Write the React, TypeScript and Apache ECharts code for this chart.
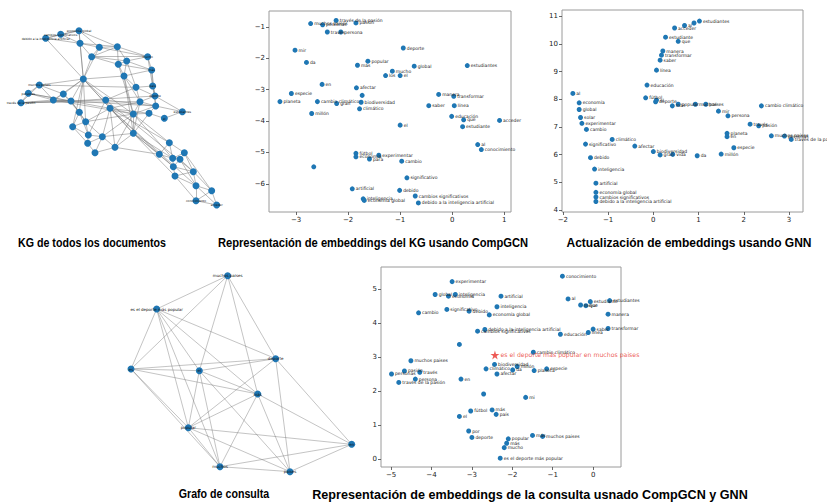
import React, { useEffect, useRef } from "react";
import * as echarts from "echarts";

// ---------- Panel 1: KG de todos los documentos (node layout units) ----------
const kgNodeX = [137,182,237,240,298,352,275,355,380,443,455,372,250,118,85,63,160,190,213,238,317,330,408,458,465,420,467,400,447,493,547,257,218,265,307,263,285,345,400,508,478,518,553,540,520,580,525,588,635,588,650];
const kgNodeY = [115,103,92,130,142,140,170,193,183,170,210,228,237,255,280,308,300,282,303,337,300,325,262,258,288,305,318,342,340,355,335,365,380,405,410,430,458,442,400,428,463,475,458,478,500,515,528,557,572,602,615];
const kgNodeLabels = [
  "debido a la inteligencia artificial","cambios significativos","economía global","","","","","","","mucho",
  "más","","","muchos países","personas","través de la pasión","","","","",
  "","","","país","deporte","","","","","el",
  "estudiantes","","","","","","","","","",
  "","","","","","","","","","conocimiento","acceder"
];
const kgEdges: [number, number][] = [
  [0,1],[0,2],[1,2],[0,3],[1,3],[2,3],[2,4],[3,4],[2,5],[3,5],[4,5],[3,6],[4,6],[5,6],[5,7],[5,8],[6,7],[7,8],[8,9],[5,9],
  [9,10],[8,10],[7,11],[8,11],[10,11],[6,8],[4,9],[6,9],[7,10],
  [12,0],[12,2],[12,3],[12,4],[12,6],[12,13],[12,16],[12,17],[12,18],[12,19],[12,20],[12,21],[12,11],[12,27],[12,31],[12,32],[12,38],
  [13,14],[14,15],[13,15],[13,16],[14,16],[15,16],[16,17],[17,18],[16,18],[13,17],[15,18],[14,18],[18,19],[17,19],
  [15,20],[15,25],[14,21],[13,22],[16,27],[18,24],[16,26],
  [20,21],[20,22],[21,27],[22,23],[22,24],[23,24],[22,25],[24,25],[24,26],[25,26],[25,27],[26,27],[26,28],[27,28],[28,29],[29,30],[26,30],[24,30],[23,26],
  [11,22],[11,25],[11,27],[7,27],[8,22],[10,23],[10,24],[9,23],[21,25],[21,28],[20,26],
  [31,32],[31,33],[32,33],[33,34],[33,35],[34,35],[35,36],[34,36],[36,37],[34,37],[31,34],[19,31],[19,32],[18,31],[21,31],[21,34],[21,37],[27,31],[27,34],[27,37],[20,33],[19,33],[32,35],
  [27,38],[21,38],[34,38],[37,38],[28,38],[25,38],[11,38],
  [21,39],[21,40],[38,40],[38,41],[38,44],[27,39],[27,41],[37,40],[20,45],[38,46],[21,47],
  [39,40],[39,41],[40,41],[39,42],[41,42],[41,43],[42,43],[40,44],[41,44],[43,44],[43,45],[44,45],[42,45],[44,46],[45,46],[45,47],[46,47],[46,49],[47,48],[47,49],[48,49],[48,50],[49,50],[47,50],[45,48],[42,48],[43,47]
];

// ---------- Panel 2: Representación de embeddings del KG usando CompGCN ----------
const kgEmbX = [-2.72,-2.49,-2.23,-1.85,-2.40,-2.14,-3.02,-2.80,-0.94,-1.82,-1.62,-0.73,-1.15,-1.28,-1.00,0.29,-2.50,-1.84,-1.73,-3.09,-3.31,-2.59,-2.22,-1.75,-1.78,-2.70,-0.26,0.03,-0.45,0.04,-0.01,0.22,0.20,-1.00,0.91,0.49,0.56,-1.85,-1.85,-1.59,-1.41,-0.97,-2.66,-0.87,-1.92,-1.01,-1.71,-1.69,-0.71,-0.65];
const kgEmbY = [-0.89,-0.93,-0.79,-0.87,-1.16,-1.16,-1.74,-2.13,-1.67,-2.22,-2.09,-2.25,-2.41,-2.55,-2.55,-2.23,-2.83,-2.94,-3.18,-3.12,-3.38,-3.38,-3.44,-3.40,-3.61,-3.76,-3.15,-3.21,-3.51,-3.51,-3.85,-3.96,-4.18,-4.13,-3.98,-4.75,-4.91,-5.03,-5.14,-5.21,-5.09,-5.28,-5.46,-5.81,-6.16,-6.21,-6.48,-6.53,-6.39,-6.61];
const kgEmbLabels = ["muchos países","personas","través de la pasión","pasión","través","persona","mir","da","deporte","más","popular","global","mucho","los","el","estudiantes","en","afectar","","especie","planeta","cambio climático","gran","biodiversidad","climático","millón","manera","transformar","saber","línea","educación","que","estudiante","el","acceder","al","conocimiento","fútbol","economía","para","experimentar","cambio","","significativo","artificial","debido","inteligencia","economía global","cambios significativos","debido a la inteligencia artificial"];

// ---------- Panel 3: Actualización de embeddings usando GNN ----------
const gnnX = [0.47,0.69,0.90,1.02,0.27,0.55,0.21,0.18,0.15,0.07,-0.14,-1.78,-0.17,0.07,0.05,0.42,0.55,0.93,1.16,-1.64,-1.64,-1.61,-1.58,-1.48,1.44,1.65,2.39,2.14,2.33,1.63,1.63,2.61,2.90,3.05,-1.50,-0.91,-0.41,0.00,0.15,0.43,0.97,1.50,1.78,-1.39,-1.30,-1.27,-1.27,-1.27,-1.27];
const gnnY = [10.57,10.66,10.75,10.82,10.24,10.09,9.74,9.59,9.41,9.05,8.51,8.21,8.05,7.97,7.91,7.76,7.82,7.82,7.82,7.87,7.63,7.34,7.13,6.91,7.57,7.40,7.76,7.10,7.04,6.77,6.65,6.68,6.67,6.55,6.38,6.55,6.31,6.11,5.99,6.01,5.96,6.02,6.25,5.89,5.48,4.97,4.64,4.47,4.31];
const gnnLabels = ["acceder","al","","estudiantes","estudiante","que","manera","transformar","saber","línea","educación","al","fútbol","el","deporte","más","popular","muchos","países","economía","global","solar","experimentar","cambio","mir","persona","cambio climático","través","pasión","planeta","en","muchos países","personas","través de la pasión","significativo","climático","afectar","biodiversidad","gran","vida","da","millón","especie","debido","inteligencia","artificial","economía global","cambios significativos","debido a la inteligencia artificial"];

// ---------- Panel 4: Grafo de consulta (node layout units) ----------
const qNodeX = [383,170,93,298,527,473,265,755,360,570];
const qNodeY = [47,147,327,332,296,402,503,553,620,635];
const qNodeLabels = ["muchos paises","es el deporte más popular","es","el","deporte","más","popular","en","muchos","paises"];
const qEdges: [number, number][] = [
  [0,1],[0,2],[0,3],[0,4],[0,5],[1,2],[1,3],[1,4],[1,5],[1,6],[1,8],[2,3],[2,4],[2,5],[2,6],[2,8],
  [3,5],[3,6],[3,8],[3,9],[3,4],[4,6],[4,7],[4,9],[5,6],[5,7],[5,8],[5,9],[6,7],[6,9],[6,8],[8,7],[8,9],[9,7]
];

// ---------- Panel 5: Representación de embeddings de la consulta ----------
const qEmbX = [-0.76,-3.49,-3.91,-3.58,-3.41,-2.28,-0.62,-0.31,-0.18,-0.07,0.41,0.37,-3.62,-3.07,-4.32,-2.38,-2.57,-2.86,-2.68,-0.81,-0.12,0.00,0.37,-3.31,-1.48,-4.51,-2.44,-2.65,-1.88,-1.99,-2.38,-1.46,-1.15,-4.67,-4.29,-4.99,-4.40,-4.81,-3.27,-2.71,-1.67,-3.03,-2.50,-2.40,-3.31,-3.08,-3.00,-1.50,-1.25,-2.10,-2.14,-2.20,-2.30];
const qEmbY = [5.38,5.22,4.84,4.79,4.84,4.79,4.71,4.53,4.51,4.63,4.66,4.26,4.40,4.35,4.30,4.48,4.24,3.76,3.81,3.67,3.72,3.82,3.84,3.37,3.14,2.89,2.78,2.65,2.72,2.62,2.50,2.60,2.65,2.59,2.55,2.50,2.35,2.25,2.35,1.91,1.81,1.41,1.44,1.31,1.25,0.82,0.63,0.69,0.66,0.59,0.46,0.33,0.02];
const qEmbLabels = ["conocimiento","experimentar","global","economía","inteligencia","artificial","al","mejor","que","estudiante","estudiantes","manera","significativo","debido","cambio","inteligencia","economía global","cambios significativos","debido a la inteligencia artificial","educación","línea","saber","transformar","","cambio climático","muchos paises","biodiversidad","climático","millón","da","afectar","planeta","especie","pasión","través","personas","persona","través de la pasión","en","","mi","fútbol","más","país","el","por","deporte","más","muchos paises","popular","más","mucho","es el deporte más popular"];
const queryPoint = [-2.43, 3.06];
const queryLabel = "es el deporte más popular en muchos paises";

// ---------- Captions ----------
const captionTexts = [
  "KG de todos los documentos",
  "Representación de embeddings del KG usando CompGCN",
  "Actualización de embeddings usando GNN",
  "Grafo de consulta",
  "Representación de embeddings de la consulta usnado CompGCN y GNN",
];
const captionCenters: [number, number][] = [[92, 243], [373, 243], [689, 243], [224, 494], [530, 494]];
const captionScaleX = [0.82, 0.86, 0.925, 0.82, 0.97];

const BLUE = "#1f77b4";
const STAR = "path://M50,0 L61,35 L98,35 L68,57 L79,91 L50,70 L21,91 L32,57 L2,35 L39,35 Z";

const fmtTick = (v: number) => (v < 0 ? "\u2212" + Math.abs(v) : String(v));

function plotAxis(gridIndex: number, min: number, max: number) {
  return {
    type: "value",
    gridIndex,
    min,
    max,
    splitLine: { show: false },
    axisLine: { show: false, onZero: false },
    axisTick: { show: true, length: 3, lineStyle: { color: "#444", width: 0.8 } },
    axisLabel: {
      fontSize: 7,
      color: "#222",
      fontFamily: "DejaVu Sans",
      margin: 4,
      showMinLabel: false,
      showMaxLabel: false,
      formatter: fmtTick,
    },
  };
}
function hiddenAxis(gridIndex: number, min: number, max: number, inverse = false) {
  return { type: "value", gridIndex, min, max, inverse, show: false };
}

function scatterSeries(gridIndex: number, xs: number[], ys: number[], labels: string[]) {
  return {
    type: "scatter",
    xAxisIndex: gridIndex,
    yAxisIndex: gridIndex,
    symbolSize: 5,
    itemStyle: { color: BLUE, opacity: 1 },
    data: xs.map((x, i) => ({ value: [x, ys[i]], name: labels[i] })),
    label: {
      show: true,
      position: "right",
      distance: 1,
      offset: [0, -1],
      formatter: "{b}",
      fontSize: 4.5,
      color: "#222",
      fontFamily: "DejaVu Sans",
    },
    labelLayout: { hideOverlap: false },
    silent: true,
    z: 3,
  };
}

function graphSeries(gridIndex: number, xs: number[], ys: number[], labels: string[], edges: [number, number][], size: number, fontSize: number, edgeOpacity: number) {
  return [
    {
      type: "lines",
      coordinateSystem: "cartesian2d",
      xAxisIndex: gridIndex,
      yAxisIndex: gridIndex,
      data: edges.map(([a, b]) => ({ coords: [[xs[a], ys[a]], [xs[b], ys[b]]] })),
      lineStyle: { color: "#707070", width: 0.6, opacity: edgeOpacity },
      silent: true,
      z: 1,
    },
    {
      type: "scatter",
      xAxisIndex: gridIndex,
      yAxisIndex: gridIndex,
      symbolSize: size,
      itemStyle: { color: BLUE, opacity: 1 },
      data: xs.map((x, i) => ({ value: [x, ys[i]], name: labels[i] })),
      label: {
        show: true,
        position: "inside",
        formatter: "{b}",
        fontSize,
        color: "#111",
        fontFamily: "DejaVu Sans",
      },
      labelLayout: { hideOverlap: false },
      silent: true,
      z: 2,
    },
  ];
}

export default function App() {
  const ref = useRef<HTMLDivElement>(null);
  useEffect(() => {
    if (!ref.current) return;
    const chart = echarts.init(ref.current, undefined, { renderer: "svg" });
    const frame = { show: true, borderColor: "#9a9a9a", borderWidth: 1, backgroundColor: "transparent" };
    chart.setOption({
      animation: false,
      backgroundColor: "#ffffff",
      grid: [
        { left: 0, top: 0, width: 220, height: 230 },
        { left: 269, top: 11, width: 242, height: 201, ...frame },
        { left: 562, top: 10, width: 241, height: 202, ...frame },
        { left: 100, top: 260, width: 270, height: 220 },
        { left: 381, top: 267, width: 240, height: 200, ...frame },
      ],
      xAxis: [
        hiddenAxis(0, 0, 660),
        plotAxis(1, -3.52, 1.13),
        plotAxis(2, -2.02, 3.31),
        hiddenAxis(3, 0, 810),
        plotAxis(4, -5.25, 0.69),
      ],
      yAxis: [
        hiddenAxis(0, 0, 690, true),
        plotAxis(1, -6.9, -0.49),
        plotAxis(2, 3.93, 11.22),
        hiddenAxis(3, 0, 660, true),
        plotAxis(4, -0.24, 5.65),
      ],
      series: [
        ...graphSeries(0, kgNodeX, kgNodeY, kgNodeLabels, kgEdges, 7, 3, 0.8),
        scatterSeries(1, kgEmbX, kgEmbY, kgEmbLabels),
        scatterSeries(2, gnnX, gnnY, gnnLabels),
        ...graphSeries(3, qNodeX, qNodeY, qNodeLabels, qEdges, 7, 4, 0.7),
        scatterSeries(4, qEmbX, qEmbY, qEmbLabels),
        {
          type: "scatter",
          xAxisIndex: 4,
          yAxisIndex: 4,
          symbol: STAR,
          symbolSize: 9,
          itemStyle: { color: "#e8302a" },
          data: [{ value: queryPoint, name: queryLabel }],
          label: {
            show: true,
            position: "right",
            distance: 1,
            formatter: "{b}",
            fontSize: 6.2,
            color: "#e8302a",
            fontFamily: "DejaVu Sans",
          },
          silent: true,
          z: 4,
        },
      ],
      graphic: captionTexts.map((t, i) => ({
        type: "text",
        x: captionCenters[i][0],
        y: captionCenters[i][1],
        scaleX: captionScaleX[i],
        style: {
          text: t,
          fontFamily: "Liberation Sans, Arial, sans-serif",
          fontWeight: "bold",
          fontSize: 13,
          fill: "#000",
          textAlign: "center",
          textVerticalAlign: "middle",
        },
      })),
    });
    return () => chart.dispose();
  }, []);
  return (
    <div
      ref={ref}
      style={{ position: "fixed", left: 0, top: 0, width: 827, height: 503, background: "#fff" }}
    />
  );
}
